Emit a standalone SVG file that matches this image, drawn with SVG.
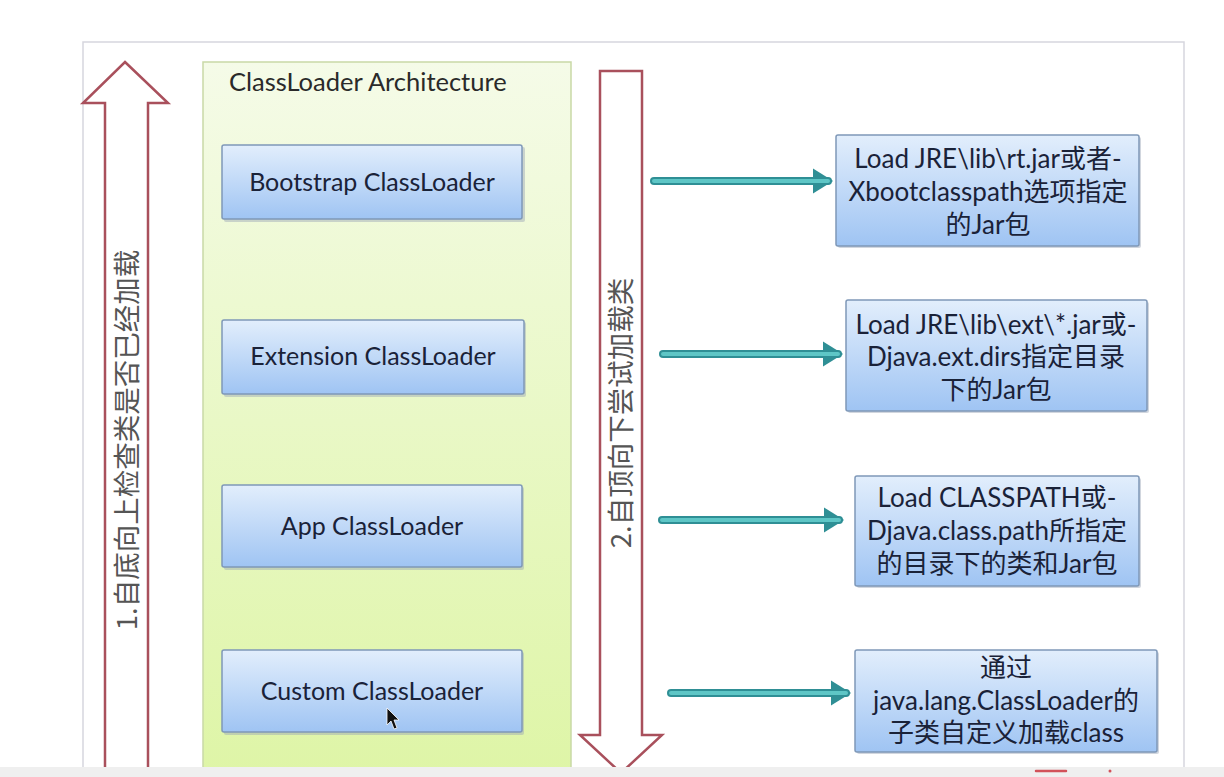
<svg xmlns="http://www.w3.org/2000/svg" width="1224" height="777" viewBox="0 0 1224 777">
<defs>
<linearGradient id="gGreen" x1="0" y1="0" x2="0" y2="1">
<stop offset="0" stop-color="#f5fbe8"/>
<stop offset="0.5" stop-color="#e9f8c6"/>
<stop offset="1" stop-color="#def5a6"/>
</linearGradient>
<linearGradient id="gBlue" x1="0" y1="0" x2="0" y2="1">
<stop offset="0" stop-color="#e2eefc"/>
<stop offset="1" stop-color="#9fc4f3"/>
</linearGradient>
<marker id="ah" viewBox="0 0 10 10" refX="6" refY="5" markerWidth="3.2" markerHeight="3.2" orient="auto" markerUnits="strokeWidth">
<path d="M0,0 L8,5 L0,10 z" fill="#2f8f95"/>
</marker>
<style>
.blk{fill:url(#gBlue);stroke:#7f98b8;stroke-width:1.5}
.shadow{fill:#9aa5b5;opacity:0.45}
.lbl{font-family:Lato,"Open Sans",sans-serif;font-size:25px;fill:#1a2238;text-anchor:middle}
.rt{font-family:Lato,"Noto Sans CJK SC",sans-serif;font-size:26px;fill:#1a2238;text-anchor:middle}
.vt{font-family:"Noto Sans CJK SC",sans-serif;font-size:27.5px;fill:#555555;text-anchor:middle}
.big{fill:#ffffff;stroke:#a9505c;stroke-width:2.5}
.cOut{stroke:#2f8f95;stroke-width:8;stroke-linecap:round;fill:none}
.cIn{stroke:#5ec6c6;stroke-width:4;stroke-linecap:round;fill:none}
</style>
</defs>
<rect x="0" y="0" width="1224" height="777" fill="#ffffff"/>
<rect id="slide" x="83" y="42" width="1101" height="745" fill="#ffffff" stroke="#d6d6de" stroke-width="1.5"/>

<g id="container">
<rect x="203" y="62" width="368" height="720" fill="url(#gGreen)" stroke="#c9d9a6" stroke-width="1.5"/>
<text x="229" y="91" style="font-family:Lato,'Open Sans',sans-serif;font-size:25.5px;fill:#2a2a2a">ClassLoader Architecture</text>
</g>

<g id="upArrow">
<polygon class="big" points="125,62 168,103 148,103 148,790 105,790 105,103 83,103"/>
<text class="vt" transform="translate(137,440) rotate(-90)">1.自底向上检查类是否已经加载</text>
</g>

<g id="downArrow">
<polygon class="big" points="600,71 642,71 642,735 662,735 621,773 580,735 600,735"/>
<text class="vt" transform="translate(631,413) rotate(-90)">2.自顶向下尝试加载类</text>
</g>

<g id="bootstrap">
<rect class="shadow" x="224" y="147" width="301" height="75" rx="2"/>
<rect class="blk" x="222" y="145" width="300" height="74" rx="2"/>
<text class="lbl" x="372" y="191">Bootstrap ClassLoader</text>
</g>
<g id="extension">
<rect class="shadow" x="224" y="322" width="302" height="75" rx="2"/>
<rect class="blk" x="222" y="320" width="302" height="74" rx="2"/>
<text class="lbl" x="373" y="365">Extension ClassLoader</text>
</g>
<g id="app">
<rect class="shadow" x="224" y="487" width="300" height="83" rx="2"/>
<rect class="blk" x="222" y="485" width="300" height="82" rx="2"/>
<text class="lbl" x="372" y="535">App ClassLoader</text>
</g>
<g id="custom">
<rect class="shadow" x="224" y="652" width="300" height="83" rx="2"/>
<rect class="blk" x="222" y="650" width="300" height="82" rx="2"/>
<text class="lbl" x="372" y="700">Custom ClassLoader</text>
</g>

<g id="load1">
<rect class="shadow" x="838" y="137" width="303" height="111" rx="2"/>
<rect class="blk" x="836" y="135" width="303" height="111" rx="2"/>
<text class="rt" x="988" y="168">Load JRE\lib\rt.jar或者-</text>
<text class="rt" x="988" y="201">Xbootclasspath选项指定</text>
<text class="rt" x="988" y="234">的Jar包</text>
</g>
<g id="load2">
<rect class="shadow" x="848" y="302" width="301" height="111" rx="2"/>
<rect class="blk" x="846" y="300" width="301" height="111" rx="2"/>
<text class="rt" x="996" y="334">Load JRE\lib\ext\*.jar或-</text>
<text class="rt" x="996" y="366">Djava.ext.dirs指定目录</text>
<text class="rt" x="996" y="399">下的Jar包</text>
</g>
<g id="load3">
<rect class="shadow" x="857" y="478" width="284" height="110" rx="2"/>
<rect class="blk" x="855" y="476" width="284" height="110" rx="2"/>
<text class="rt" x="997" y="507">Load CLASSPATH或-</text>
<text class="rt" x="997" y="540">Djava.class.path所指定</text>
<text class="rt" x="997" y="573">的目录下的类和Jar包</text>
</g>
<g id="load4">
<rect class="shadow" x="857" y="652" width="302" height="102" rx="2"/>
<rect class="blk" x="855" y="650" width="302" height="102" rx="2"/>
<text class="rt" x="1006" y="677">通过</text>
<text class="rt" x="1006" y="710">java.lang.ClassLoader的</text>
<text class="rt" x="1006" y="742">子类自定义加载class</text>
</g>

<g id="connectors">
<line class="cOut" x1="654" y1="181" x2="828" y2="181" marker-end="url(#ah)"/>
<line class="cIn" x1="654" y1="181" x2="828" y2="181"/>
<line class="cOut" x1="663" y1="354" x2="838" y2="354" marker-end="url(#ah)"/>
<line class="cIn" x1="663" y1="354" x2="838" y2="354"/>
<line class="cOut" x1="662" y1="520" x2="839" y2="520" marker-end="url(#ah)"/>
<line class="cIn" x1="662" y1="520" x2="839" y2="520"/>
<line class="cOut" x1="671" y1="693" x2="846" y2="693" marker-end="url(#ah)"/>
<line class="cIn" x1="671" y1="693" x2="846" y2="693"/>
</g>

<polygon id="cursor" points="387,708 387,725 391,721 394,729 397,728 394,720 399,720" fill="#111111" stroke="#ffffff" stroke-width="0.8"/>

<rect x="0" y="767" width="1224" height="10" fill="#efefef"/>
<line x1="1036" y1="771" x2="1066" y2="771" stroke="#d2525a" stroke-width="2.5" stroke-linecap="round"/>
<circle cx="1110" cy="771" r="1.5" fill="#d2525a"/>
</svg>
